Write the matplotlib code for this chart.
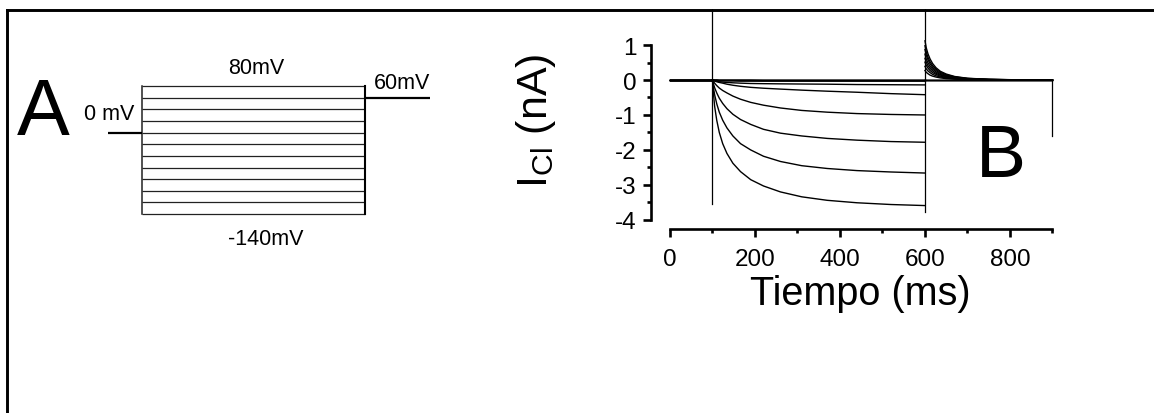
import matplotlib
matplotlib.use("Agg")
import matplotlib.pyplot as plt
from matplotlib.lines import Line2D
from matplotlib.ticker import FixedLocator

plt.rcParams['font.family'] = ['Liberation Sans', 'DejaVu Sans']
plt.rcParams['mathtext.fontset'] = 'custom'
plt.rcParams['mathtext.rm'] = 'Liberation Sans'
plt.rcParams['mathtext.it'] = 'Liberation Sans'

# ---------------- Panel A: voltage protocol ----------------
STEP_LEVELS_MV = [80, 60, 40, 20, 0, -20, -40, -60, -80, -100, -120, -140]
HOLD_MV = 0
TAIL_MV = 60
PROTO_TIMES_MS = [25, 100, 600, 745]   # hold start, step on, step off, tail end

# ---------------- Panel B: chloride currents ----------------
T_HOLD = [0, 100]
T_STEP = [100, 102, 105, 110, 116, 124, 134, 148, 166, 190, 220, 260, 310, 370, 440, 520, 600]
T_TAIL = [600, 603, 607, 612, 618, 626, 636, 650, 670, 700, 750, 820, 900]

# current during the step (nA), one row per voltage level, +80 ... -140 mV
STEP_CURRENTS = [
    [0.0, 0.0, 0.0, 0.0, 0.0, 0.0, 0.0, 0.0, 0.0, 0.0, 0.0, 0.0, 0.0, 0.0, 0.0, 0.0, 0.0],
    [0.0, 0.0, 0.0, 0.0, 0.0, 0.0, 0.0, 0.0, 0.0, 0.0, 0.0, 0.0, 0.0, 0.0, 0.0, 0.0, 0.0],
    [0.0, 0.0, 0.0, 0.0, 0.0, 0.0, 0.0, 0.0, 0.0, 0.0, 0.0, 0.0, 0.0, 0.0, 0.0, 0.0, 0.0],
    [0.0, 0.0, 0.0, 0.0, -0.01, -0.01, -0.01, -0.01, -0.01, -0.01, -0.01, -0.01, -0.01, -0.01, -0.01, -0.01, -0.01],
    [0.0, 0.0, -0.01, -0.01, -0.01, -0.01, -0.01, -0.01, -0.01, -0.01, -0.02, -0.02, -0.02, -0.02, -0.02, -0.02, -0.02],
    [0.0, 0.0, -0.01, -0.01, -0.02, -0.02, -0.02, -0.02, -0.03, -0.03, -0.03, -0.03, -0.03, -0.03, -0.03, -0.03, -0.03],
    [0.0, -0.01, -0.02, -0.035, -0.05, -0.06, -0.07, -0.08, -0.09, -0.10, -0.105, -0.11, -0.115, -0.12, -0.13, -0.135, -0.14],
    [0.0, -0.01, -0.03, -0.05, -0.07, -0.09, -0.12, -0.15, -0.18, -0.21, -0.235, -0.26, -0.29, -0.32, -0.35, -0.39, -0.42],
    [0.0, -0.04, -0.09, -0.16, -0.23, -0.30, -0.37, -0.46, -0.55, -0.64, -0.72, -0.80, -0.87, -0.92, -0.96, -0.985, -1.00],
    [0.0, -0.10, -0.22, -0.37, -0.52, -0.67, -0.82, -0.98, -1.13, -1.27, -1.41, -1.52, -1.60, -1.67, -1.72, -1.76, -1.78],
    [0.0, -0.20, -0.42, -0.68, -0.92, -1.15, -1.37, -1.60, -1.82, -2.00, -2.18, -2.33, -2.45, -2.53, -2.59, -2.63, -2.66],
    [0.0, -0.35, -0.75, -1.15, -1.50, -1.82, -2.10, -2.38, -2.62, -2.85, -3.03, -3.20, -3.34, -3.44, -3.51, -3.56, -3.59],
]

# tail currents back at +60 mV (nA); sweeps without a visible tail stay at 0
TAIL_CURRENTS = [
    [0.0, 0.0, 0.0, 0.0, 0.0, 0.0, 0.0, 0.0, 0.0, 0.0, 0.0, 0.0, 0.0],
    [0.0, 0.0, 0.0, 0.0, 0.0, 0.0, 0.0, 0.0, 0.0, 0.0, 0.0, 0.0, 0.0],
    [0.0, 0.0, 0.0, 0.0, 0.0, 0.0, 0.0, 0.0, 0.0, 0.0, 0.0, 0.0, 0.0],
    [0.0, 0.0, 0.0, 0.0, 0.0, 0.0, 0.0, 0.0, 0.0, 0.0, 0.0, 0.0, 0.0],
    [0.27, 0.22, 0.18, 0.14, 0.11, 0.084, 0.06, 0.04, 0.024, 0.012, 0.005, 0.001, 0.0],
    [0.39, 0.32, 0.26, 0.21, 0.16, 0.12, 0.087, 0.058, 0.035, 0.018, 0.007, 0.002, 0.0],
    [0.51, 0.42, 0.34, 0.27, 0.21, 0.16, 0.11, 0.076, 0.045, 0.023, 0.009, 0.002, 0.0],
    [0.62, 0.51, 0.41, 0.33, 0.26, 0.19, 0.14, 0.095, 0.055, 0.028, 0.011, 0.003, 0.0],
    [0.74, 0.60, 0.49, 0.39, 0.31, 0.23, 0.16, 0.11, 0.065, 0.034, 0.013, 0.003, 0.0],
    [0.87, 0.71, 0.58, 0.46, 0.36, 0.27, 0.19, 0.13, 0.08, 0.04, 0.016, 0.004, 0.0],
    [0.98, 0.80, 0.65, 0.52, 0.41, 0.31, 0.22, 0.15, 0.09, 0.045, 0.018, 0.004, 0.0],
    [1.12, 0.92, 0.75, 0.60, 0.47, 0.35, 0.25, 0.17, 0.10, 0.05, 0.02, 0.005, 0.0],
]

# capacitive artefacts: time (ms), upper and lower current (nA)
ARTEFACT_T = [100, 600, 900]
ARTEFACT_HI = [2.1, 2.1, 0.0]
ARTEFACT_LO = [-3.55, -3.78, -1.6]

X_TICKS = [0, 200, 400, 600, 800]
Y_TICKS = [-4, -3, -2, -1, 0, 1]

W, H = 1154, 414
fig = plt.figure(figsize=(W / 100, H / 100), dpi=100)


def fx(px):
    return px / W


def fy(py):
    return 1 - py / H


# frame around the figure (top and left edges)
fig.add_artist(Line2D([fx(7), fx(W + 5)], [fy(10.5), fy(10.5)], color='black', lw=2.1))
fig.add_artist(Line2D([fx(7), fx(7)], [fy(10.5), fy(H + 5)], color='black', lw=2.1))

# ---- panel A ----
axA = fig.add_axes([fx(97), fy(238.2), 357.4 / W, 174.2 / H])
axA.set_xlim(0, 800)
axA.set_ylim(-180, 120)
axA.axis('off')
t0, t_on, t_off, t_end = PROTO_TIMES_MS
for v in STEP_LEVELS_MV:
    axA.plot([t_on, t_off], [v, v], color='#222222', lw=0.9, solid_capstyle='butt')
axA.plot([t_on, t_on], [min(STEP_LEVELS_MV), max(STEP_LEVELS_MV)], color='#222222', lw=1.1)
axA.plot([t_off, t_off], [min(STEP_LEVELS_MV), max(STEP_LEVELS_MV)], color='black', lw=1.5)
axA.plot([t0, t_on], [HOLD_MV, HOLD_MV], color='black', lw=1.6, solid_capstyle='butt')
axA.plot([t_off, t_end], [TAIL_MV, TAIL_MV], color='black', lw=1.6, solid_capstyle='butt')

lab_kw = dict(fontsize=15.5, ha='center', va='baseline')
axA.text(356.6, 102.8, '%dmV' % max(STEP_LEVELS_MV), **lab_kw)
axA.text(682, 77.5, '%dmV' % TAIL_MV, **lab_kw)
axA.text(27.3, 22.9, '%d mV' % HOLD_MV, **lab_kw)
axA.text(378, -191.7, '%dmV' % min(STEP_LEVELS_MV), **lab_kw)

fig.text(fx(43), fy(135), 'A', fontsize=57, ha='center', va='baseline')
fig.text(fx(1001), fy(177), 'B', fontsize=54, ha='center', va='baseline')

# ---- panel B ----
axB = fig.add_axes([fx(651), fy(230), 403.6 / W, 220 / H])
axB.set_xlim(-44.7, 905)
axB.set_ylim(-4.26, 2.03)

trace_kw = dict(color='black', lw=1.0, solid_joinstyle='round')
for step, tail in zip(STEP_CURRENTS, TAIL_CURRENTS):
    axB.plot(T_HOLD, [0.0, 0.0], **trace_kw)
    axB.plot(T_STEP, step, **trace_kw)
    axB.plot(T_TAIL, tail, **trace_kw)
for t, hi, lo in zip(ARTEFACT_T, ARTEFACT_HI, ARTEFACT_LO):
    axB.plot([t, t], [lo, hi], color='black', lw=0.9)

for s in ('top', 'right'):
    axB.spines[s].set_visible(False)
for s in ('left', 'bottom'):
    axB.spines[s].set_linewidth(1.9)
axB.spines['left'].set_bounds(-4, 1)
axB.spines['bottom'].set_bounds(0, 900)

axB.xaxis.set_major_locator(FixedLocator(X_TICKS))
axB.xaxis.set_minor_locator(FixedLocator([100, 300, 500, 700, 900]))
axB.yaxis.set_major_locator(FixedLocator(Y_TICKS))
axB.yaxis.set_minor_locator(FixedLocator([-3.5, -2.5, -1.5, -0.5, 0.5]))
axB.set_xticklabels([str(v) for v in X_TICKS])
axB.set_yticklabels([str(v) for v in Y_TICKS])
axB.tick_params(axis='both', which='major', direction='out', length=6, width=1.9,
                labelsize=17.5)
axB.tick_params(axis='both', which='minor', direction='out', length=3, width=1.9)
axB.tick_params(axis='x', which='major', pad=8)
axB.tick_params(axis='y', which='major', pad=4.5)

fig.text(fx(860), fy(305), 'Tiempo (ms)', fontsize=28.5, ha='center', va='baseline')
fig.text(fx(536), fy(121), r'I$_{\mathrm{Cl}}$ (nA)', fontsize=31, rotation=90,
         ha='center', va='center')

fig.savefig('out.png', dpi=100)
